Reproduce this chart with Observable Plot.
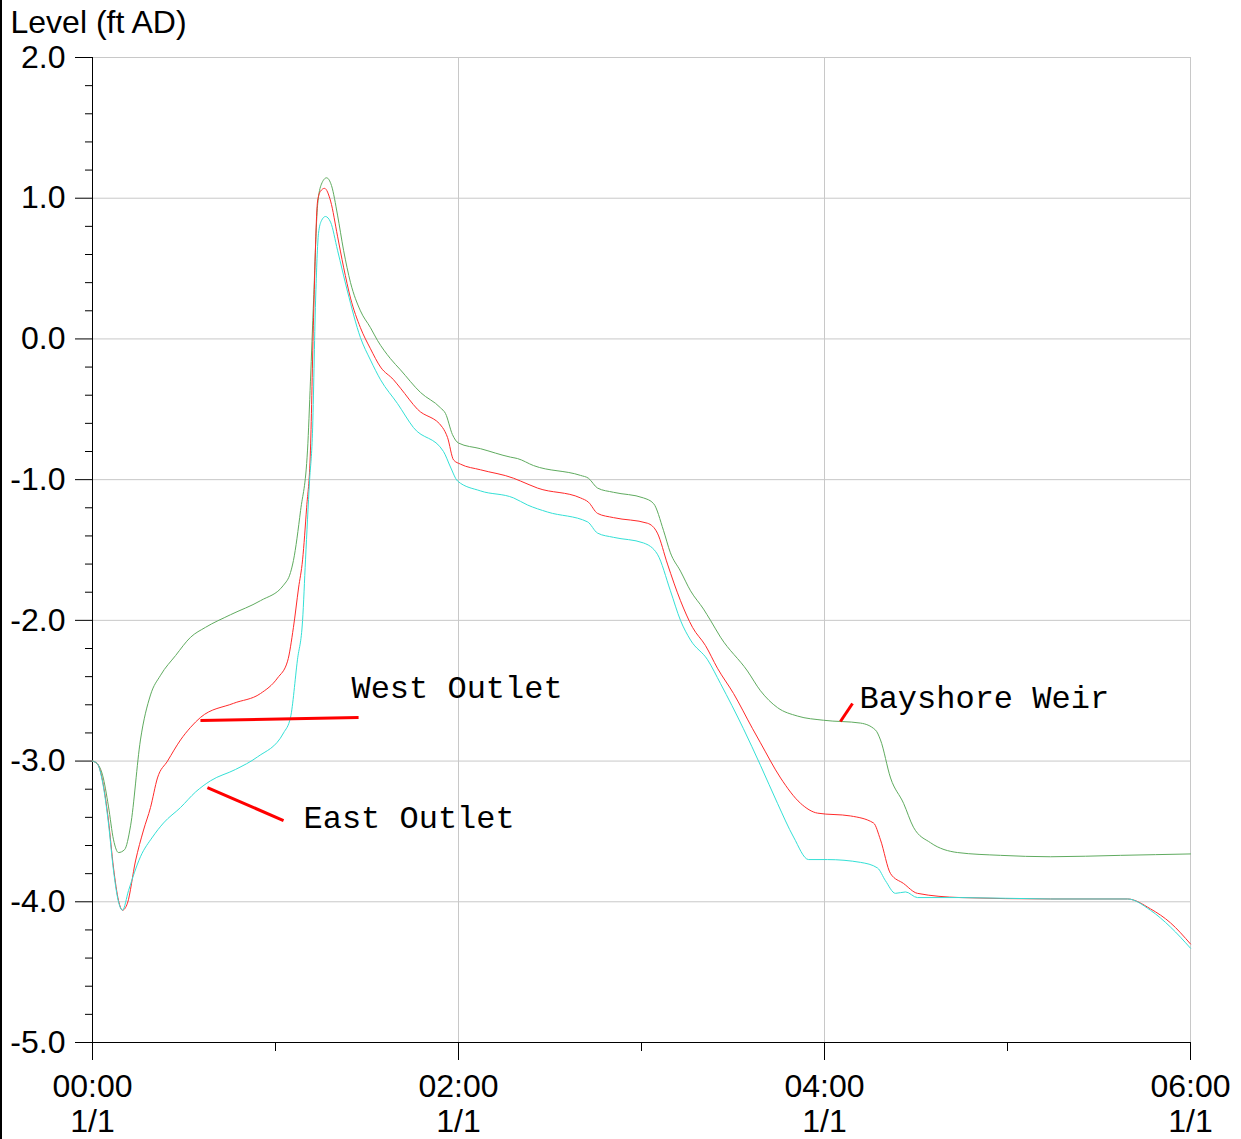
<!DOCTYPE html>
<html>
<head>
<meta charset="utf-8">
<script src="https://cdn.jsdelivr.net/npm/d3@7"></script>
<script src="https://cdn.jsdelivr.net/npm/@observablehq/plot@0.6"></script>
<style>
  html, body { margin: 0; padding: 0; background: #fff; }
  #wrap { position: relative; width: 1241px; height: 1139px; overflow: hidden; }
  #wrap::before { content: ""; position: absolute; left: 0; top: 0; width: 2px; height: 1139px; background: #000; z-index: 2; }
  #wrap svg { display: block; }
</style>
</head>
<body>
<div id="wrap"></div>
<script>
// ---- data (time in hours from 00:00 1/1, level in ft AD) ----
const bayshoreT = [0,0.027,0.055,0.087,0.115,0.142,0.175,0.208,0.262,0.317,0.372,0.454,0.536,0.617,0.754,0.918,1.044,1.082,1.098,1.137,1.175,1.191,1.208,1.230,1.251,1.279,1.306,1.339,1.372,1.410,1.464,1.519,1.557,1.628,1.683,1.792,1.902,1.929,1.967,2.0,2.120,2.284,2.322,2.410,2.667,2.710,2.760,2.847,3.011,3.066,3.120,3.158,3.213,3.268,3.339,3.377,3.432,3.579,3.650,3.743,3.852,3.995,4.197,4.279,4.306,4.361,4.432,4.486,4.579,4.727,4.962,5.235,5.617,6.0];
const bayshoreV = [-3.00,-3.02,-3.10,-3.32,-3.56,-3.65,-3.63,-3.46,-2.85,-2.53,-2.39,-2.25,-2.12,-2.05,-1.96,-1.86,-1.75,-1.66,-1.575,-1.22,-0.79,-0.30,0.27,0.95,1.10,1.145,1.09,0.88,0.63,0.40,0.20,0.08,-0.01,-0.14,-0.22,-0.38,-0.49,-0.53,-0.68,-0.74,-0.78,-0.84,-0.85,-0.90,-0.97,-0.99,-1.06,-1.09,-1.13,-1.17,-1.36,-1.52,-1.65,-1.79,-1.92,-2.00,-2.12,-2.36,-2.50,-2.62,-2.68,-2.71,-2.73,-2.78,-2.85,-3.12,-3.30,-3.47,-3.58,-3.65,-3.67,-3.68,-3.67,-3.66];

const westT = [0,0.027,0.055,0.087,0.115,0.142,0.164,0.191,0.235,0.279,0.317,0.355,0.410,0.481,0.536,0.590,0.770,0.918,1.011,1.066,1.098,1.126,1.148,1.170,1.191,1.208,1.230,1.246,1.268,1.301,1.339,1.372,1.410,1.464,1.519,1.574,1.645,1.683,1.776,1.913,1.940,1.973,2.011,2.120,2.301,2.339,2.432,2.667,2.710,2.760,2.847,3.033,3.087,3.142,3.213,3.279,3.350,3.415,3.503,3.607,3.650,3.760,3.869,3.962,4.142,4.268,4.306,4.361,4.432,4.508,4.743,5.235,5.656,5.781,5.891,6.0];
const westV = [-3.00,-3.02,-3.14,-3.42,-3.76,-3.99,-4.06,-4.01,-3.71,-3.49,-3.33,-3.12,-3.00,-2.85,-2.76,-2.69,-2.59,-2.52,-2.41,-2.29,-2.05,-1.77,-1.57,-1.20,-0.79,0.15,0.98,1.05,1.07,0.98,0.73,0.51,0.29,0.08,-0.07,-0.20,-0.29,-0.35,-0.50,-0.63,-0.70,-0.86,-0.89,-0.93,-0.99,-1.01,-1.06,-1.13,-1.16,-1.24,-1.27,-1.31,-1.38,-1.60,-1.86,-2.05,-2.18,-2.34,-2.52,-2.77,-2.87,-3.12,-3.30,-3.37,-3.39,-3.44,-3.56,-3.80,-3.87,-3.94,-3.97,-3.98,-3.98,-4.05,-4.15,-4.30];

const eastT = [0,0.027,0.055,0.087,0.115,0.142,0.164,0.197,0.262,0.328,0.388,0.481,0.563,0.645,0.781,0.902,1.044,1.082,1.120,1.148,1.164,1.186,1.202,1.219,1.235,1.251,1.273,1.301,1.339,1.393,1.464,1.519,1.574,1.667,1.754,1.918,1.956,1.995,2.120,2.301,2.377,2.486,2.705,2.760,2.847,3.011,3.087,3.158,3.213,3.268,3.361,3.432,3.557,3.650,3.743,3.831,3.913,4.016,4.197,4.290,4.333,4.388,4.443,4.508,4.743,5.235,5.656,5.781,5.891,6.0];
const eastV = [-3.00,-3.02,-3.15,-3.44,-3.78,-4.00,-4.06,-3.92,-3.68,-3.54,-3.44,-3.33,-3.22,-3.14,-3.06,-2.97,-2.80,-2.69,-2.28,-2.00,-1.57,-1.01,-0.67,0.27,0.75,0.84,0.87,0.83,0.63,0.34,0.01,-0.15,-0.29,-0.46,-0.63,-0.80,-0.91,-1.01,-1.08,-1.13,-1.18,-1.23,-1.30,-1.38,-1.41,-1.45,-1.53,-1.79,-2.00,-2.14,-2.28,-2.45,-2.77,-3.03,-3.30,-3.54,-3.70,-3.70,-3.72,-3.76,-3.85,-3.94,-3.93,-3.97,-3.97,-3.98,-3.98,-4.06,-4.18,-4.33];

const seriesNames = ["Bayshore Weir", "West Outlet", "East Outlet"];
const seriesColors = ["#5fab5f", "#ff2a2a", "#33e0d6"];

// tick labels
const yMajor = [-5, -4, -3, -2, -1, 0, 1, 2];
const yMinor = [-4.8,-4.6,-4.4,-4.2,-3.8,-3.6,-3.4,-3.2,-2.8,-2.6,-2.4,-2.2,-1.8,-1.6,-1.4,-1.2,-0.8,-0.6,-0.4,-0.2,0.2,0.4,0.6,0.8,1.2,1.4,1.6,1.8];
const xMajor = [0, 2, 4, 6];
const xMinor = [1, 3, 5];
const xTickLabels = ["00:00\n1/1", "02:00\n1/1", "04:00\n1/1", "06:00\n1/1"];
const yLabel = "Level (ft AD)";

// annotations: label text, text anchor (hours, level), leader from / to
const annLabels = ["West Outlet", "East Outlet", "Bayshore Weir"];
const annTextX = [1.415, 1.153, 4.191];
const annTextY = [-2.555, -3.479, -2.626];
const annX1 = [0.590, 0.628, 4.087];
const annY1 = [-2.712, -3.188, -2.719];
const annX2 = [1.454, 1.044, 4.153];
const annY2 = [-2.690, -3.423, -2.591];

// build tables
function rows(name, T, V) { return T.map((t, i) => ({series: name, t, v: V[i]})); }
const lineData = [
  ...rows(seriesNames[0], bayshoreT, bayshoreV),
  ...rows(seriesNames[1], westT, westV),
  ...rows(seriesNames[2], eastT, eastV)
];
const annRows = annLabels.map((s, i) => ({label: s, tx: annTextX[i], ty: annTextY[i], x1: annX1[i], y1: annY1[i], x2: annX2[i], y2: annY2[i]}));

const chart = Plot.plot({
  width: 1241,
  height: 1139,
  marginLeft: 92,
  marginRight: 51,
  marginTop: 57,
  marginBottom: 97,
  x: {domain: [0, 6]},
  y: {domain: [-5, 2]},
  style: {fontFamily: "'Liberation Sans', Arial, sans-serif", background: "#fff", color: "#000", overflow: "visible"},
  marks: [
    Plot.gridX(xMajor, {stroke: "#c8c8c8", strokeOpacity: 1}),
    Plot.gridY(yMajor, {stroke: "#c8c8c8", strokeOpacity: 1}),
    Plot.ruleX([0], {stroke: "#000"}),
    Plot.ruleY([-5], {stroke: "#000"}),
    Plot.axisY(yMajor, {tickSize: 17, tickPadding: 10, fontSize: 32, tickFormat: d => d.toFixed(1), label: null}),
    Plot.axisY(yMinor, {tickSize: 7, tickFormat: () => "", label: null}),
    Plot.axisX(xMajor, {tickSize: 18, tickPadding: 12, fontSize: 32, lineHeight: 1.08, tickFormat: d => xTickLabels[xMajor.indexOf(d)], label: null}),
    Plot.axisX(xMinor, {tickSize: 9, tickFormat: () => "", label: null}),
    Plot.line(lineData, {
      x: "t", y: "v", z: "series",
      stroke: d => seriesColors[seriesNames.indexOf(d.series)],
      strokeWidth: 1,
      strokeDasharray: d => d.series === "West Outlet" ? "2,1" : null,
      curve: "monotone-x"
    }),
    Plot.link(annRows, {x1: "x1", y1: "y1", x2: "x2", y2: "y2", stroke: "#ff0000", strokeWidth: 3}),
    Plot.text(annRows, {x: "tx", y: "ty", text: "label", textAnchor: "start", lineAnchor: "bottom", fontSize: 32, fontFamily: "'Liberation Mono', 'Courier New', monospace", fill: "#000"}),
    Plot.text([yLabel], {frameAnchor: "top-left", dx: -82, dy: -25, textAnchor: "start", lineAnchor: "bottom", fontSize: 32, fill: "#000"})
  ]
});
document.getElementById("wrap").appendChild(chart);
</script>
</body>
</html>
